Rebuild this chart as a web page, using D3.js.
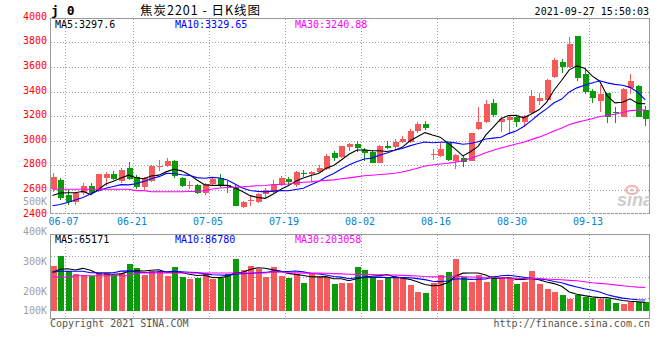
<!DOCTYPE html>
<html><head><meta charset="utf-8">
<script src="https://cdn.jsdelivr.net/npm/d3@7"></script>
<style>body{margin:0;background:#fff;}svg{display:block;}</style>
</head><body><svg id="c" width="660" height="360"></svg>
<script>
// ---------- data ----------
const dates = ["06-04","06-07","06-08","06-09","06-10","06-11","06-15","06-16","06-17","06-18",
"06-21","06-22","06-23","06-24","06-25","06-28","06-29","06-30","07-01","07-02",
"07-05","07-06","07-07","07-08","07-09","07-12","07-13","07-14","07-15","07-16",
"07-19","07-20","07-21","07-22","07-23","07-26","07-27","07-28","07-29","07-30",
"08-02","08-03","08-04","08-05","08-06","08-09","08-10","08-11","08-12","08-13",
"08-16","08-17","08-18","08-19","08-20","08-23","08-24","08-25","08-26","08-27",
"08-30","08-31","09-01","09-02","09-03","09-06","09-07","09-08","09-09","09-10",
"09-13","09-14","09-15","09-16","09-17","09-22","09-23","09-24","09-27"];
const open  = [2606,2681,2559,2500,2573,2633,2594,2698,2730,2676,2781,2703,2622,2676,2795,2795,2836,2695,2636,2638,
2573,2649,2695,2643,2627,2464,2516,2505,2565,2586,2641,2689,2641,2738,2730,2749,2771,2898,2866,2952,
2974,2925,2911,2822,2958,2952,2990,2993,3079,3136,2888,2876,2980,2838,2858,2838,3096,3155,3305,3150,
3169,3191,3155,3223,3326,3331,3521,3643,3597,3852,3543,3405,3326,3391,3234,3196,3426,3445,3250];
const high  = [2741,2695,2600,2586,2654,2659,2730,2749,2757,2776,2825,2722,2708,2803,2841,2862,2844,2708,2676,2649,
2659,2708,2730,2673,2638,2513,2559,2576,2614,2681,2714,2708,2757,2763,2757,2803,2893,2919,2958,2984,
2998,2939,2919,2966,2998,3012,3039,3098,3153,3161,2933,2982,2984,2893,2876,3066,3277,3331,3340,3196,
3201,3210,3210,3413,3391,3500,3670,3662,3846,3852,3589,3418,3453,3391,3272,3426,3543,3453,3283];
const low   = [2586,2519,2478,2478,2559,2559,2586,2633,2681,2659,2681,2606,2594,2667,2757,2789,2695,2627,2606,2567,
2559,2633,2627,2576,2470,2456,2470,2492,2546,2573,2633,2641,2627,2703,2667,2744,2763,2838,2858,2919,
2911,2838,2817,2817,2933,2925,2980,2980,3066,3088,2844,2868,2838,2768,2789,2838,3088,3147,3191,3074,
3066,3114,3114,3218,3291,3326,3508,3548,3589,3489,3378,3310,3236,3147,3147,3191,3380,3191,3123];
const close = [2706,2537,2500,2573,2633,2573,2730,2730,2687,2763,2692,2622,2695,2795,2798,2836,2716,2633,2640,2578,
2646,2689,2641,2633,2472,2505,2519,2565,2600,2641,2695,2667,2749,2733,2744,2779,2879,2860,2958,2974,
2944,2898,2822,2958,2941,2993,3017,3079,3136,3106,2893,2933,2844,2884,2830,3061,3153,3299,3210,3175,
3191,3155,3201,3364,3345,3494,3657,3597,3787,3508,3399,3345,3380,3191,3226,3421,3486,3196,3175];
const volume = [283300,317700,266700,256700,253300,251000,261000,261000,253300,259000,
290000,276700,253300,267700,265700,250000,280000,245700,239000,243300,
259000,239000,242300,256700,305700,270000,283300,272300,247700,279000,
250000,244300,256700,227700,259000,247700,247700,223300,227700,225700,
281000,270000,242300,236700,242300,247700,247700,220000,197700,194300,
227700,255000,263300,305700,245700,231000,253300,231000,250000,247700,
242300,223300,231000,266700,223300,205700,196700,185700,173300,185700,
181000,176700,173300,173300,161000,156700,164300,164300,164300];
// moving-average values before a full window is available
const ma5Lead  = [2555,2576,2578,2578];
const ma10Lead = [2472,2482,2498,2519,2539,2567,2596,2614,2628];
const ma30Lead = [2606,2606,2606,2606,2606,2606,2606,2606,2606,2606,2606,2595,2595,2586,2586,2586,2586,2586,2588,2588,
2595,2608,2616,2620,2622,2625,2630,2634,2636];
const vma5Lead  = [262300,272300,274300,270000];
const vma10Lead = [262300,265700,265700,265700,265700,261000,261000,261000,261000];
const vma30Lead = [246700,246700,246700,251000,251000,251000,251000,251000,251000,251000,251000,
260000,260000,260000,260000,260000,260000,260000,260000,260000,260000,260000,260000,260000,260000,260000,260000,260000,260000];
const priceTicks = [2400,2600,2800,3000,3200,3400,3600,3800,4000];
const volTicks = [100000,200000,300000,400000,500000];
const volTickLabels = ["100K","200K","300K","400K","500K"];
const dateTicks = ["06-07","06-21","07-05","07-19","08-02","08-16","08-30","09-13"];
const priceLegend = ["MA5:3297.6","MA10:3329.65","MA30:3240.88"];
const volLegend = ["MA5:65171","MA10:86780","MA30:203058"];
const maColors = ["#000000","#0000ff","#ff00ff"];
const codeText = "j 0";
const titleText = "焦炭2201 - 日K线图";
const stampText = "2021-09-27 15:50:03";
const copyText = "Copyright 2021 SINA.COM";
const urlText = "http://finance.sina.com.cn";

// ---------- layout ----------
const L = 50.5, R = 649.5, T = 18.5, B = 213.5, VT = 234.5, VB = 318.5, VBASE = 311;
const UP = "#f65a5a", DOWN = "#0a9a0a", GRID = "#a0a0a0", MONO = "'DejaVu Sans Mono', monospace";
const svg = d3.select("#c");
const x = d3.scalePoint().domain(dates).range([52.5, 645.3]);
const y = d3.scaleLinear().domain([2400, 4000]).range([214.6, 17.7]);
const yv = d3.scaleLinear().domain([0, 300000]).range([351, 261]);

function movAvg(arr, n, lead) {
  return arr.map((_, i) => i < n - 1 ? lead[i] : d3.mean(arr.slice(i - n + 1, i + 1)));
}
const pMA = [movAvg(close,5,ma5Lead), movAvg(close,10,ma10Lead), movAvg(close,30,ma30Lead)];
const vMA = [movAvg(volume,5,vma5Lead), movAvg(volume,10,vma10Lead), movAvg(volume,30,vma30Lead)];

const defs = svg.append("defs");
defs.append("clipPath").attr("id","cm").append("rect").attr("x",L).attr("y",T).attr("width",R-L).attr("height",B-T);
defs.append("clipPath").attr("id","cv").append("rect").attr("x",L).attr("y",VT).attr("width",R-L).attr("height",VB-VT);

// grids
const gx = d => Math.round(x(d) + 4.8) + 0.5;
const grid = svg.append("g").attr("stroke", GRID).attr("stroke-dasharray","1,2").attr("shape-rendering","crispEdges");
grid.selectAll(".hg").data(priceTicks.slice(1,-1)).join("line")
  .attr("x1",L).attr("x2",R).attr("y1",d=>Math.round(y(d))+0.5).attr("y2",d=>Math.round(y(d))+0.5);
grid.selectAll(".vg").data(dateTicks).join("line")
  .attr("x1",gx).attr("x2",gx).attr("y1",T).attr("y2",B);
grid.selectAll(".vg2").data(dateTicks).join("line")
  .attr("x1",gx).attr("x2",gx).attr("y1",VT).attr("y2",VB);
grid.selectAll(".hv").data([0.25,0.5,0.75]).join("line")
  .attr("x1",L).attr("x2",R).attr("y1",f=>Math.round(VT+(VB-VT)*f)+0.5).attr("y2",f=>Math.round(VT+(VB-VT)*f)+0.5);

// frames
const fr = svg.append("g").attr("stroke","#999").attr("fill","none").attr("shape-rendering","crispEdges");
fr.append("path").attr("d",`M${L},${B}V${T}H${R}V${B}`);
fr.append("line").attr("x1",L).attr("x2",R).attr("y1",B).attr("y2",B).attr("stroke-dasharray","3,1");
fr.append("rect").attr("x",L).attr("y",VT).attr("width",R-L).attr("height",VB-VT);

// watermark
const wm = svg.append("g").attr("clip-path","url(#cm)");
wm.append("ellipse").attr("cx",632).attr("cy",190).attr("rx",6).attr("ry",4)
  .attr("fill","none").attr("stroke","#f2b4b4").attr("stroke-width",2);
wm.append("circle").attr("cx",632).attr("cy",190).attr("r",1.6).attr("fill","#f2b4b4");
wm.append("text").attr("x",617).attr("y",206).attr("font-family","'Liberation Sans', Arial, sans-serif")
  .attr("font-size",18).attr("font-style","italic").attr("font-weight","bold").attr("fill","#cccccc").text("sina");

// candles
const idx = d3.range(dates.length);
const cg = svg.append("g").attr("clip-path","url(#cm)").attr("shape-rendering","crispEdges");
const col = i => close[i] >= open[i] ? UP : DOWN;
cg.selectAll(".w").data(idx).join("line")
  .attr("x1",i=>Math.round(x(dates[i]))+0.5).attr("x2",i=>Math.round(x(dates[i]))+0.5)
  .attr("y1",i=>y(high[i])).attr("y2",i=>y(low[i])).attr("stroke",col);
cg.selectAll(".b").data(idx).join("rect")
  .attr("x",i=>Math.round(x(dates[i]))-2.5+0.5-0.5).attr("width",6)
  .attr("y",i=>y(Math.max(open[i],close[i])))
  .attr("height",i=>Math.max(1, Math.abs(y(open[i])-y(close[i]))))
  .attr("fill",col);

// price MA lines
const lg = svg.append("g").attr("clip-path","url(#cm)").attr("fill","none");
pMA.forEach((s,k)=>{
  lg.append("path").attr("d", d3.line().x((d,i)=>x(dates[i])).y(d=>y(d))(s))
    .attr("stroke",maColors[k]).attr("stroke-width",1.1);
});

// volume bars
const vg = svg.append("g").attr("clip-path","url(#cv)").attr("shape-rendering","crispEdges");
vg.selectAll("rect").data(idx).join("rect")
  .attr("x",i=>Math.round(x(dates[i]))-2.5).attr("width",6)
  .attr("y",i=>yv(volume[i])).attr("height",i=>Math.max(0,VBASE-yv(volume[i])))
  .attr("fill",col);
const vl = svg.append("g").attr("clip-path","url(#cv)").attr("fill","none");
vMA.forEach((s,k)=>{
  vl.append("path").attr("d", d3.line().x((d,i)=>x(dates[i])).y(d=>yv(d))(s))
    .attr("stroke",maColors[k]).attr("stroke-width",1.1);
});

// axis labels
const tg = svg.append("g").attr("font-family",MONO).attr("font-size",10);
tg.selectAll(".pl").data(priceTicks).join("text")
  .attr("x",47).attr("y",d=>y(d)+2).attr("text-anchor","end").attr("fill","#ff0000").text(d=>d);
tg.selectAll(".vlb").data(volTicks).join("text")
  .attr("x",47).attr("y",(d,i)=>Math.min(313.5, yv(d)+3.5)).attr("text-anchor","end").attr("fill","#a0a0a0")
  .text((d,i)=>volTickLabels[i]);
tg.selectAll(".dl").data(dateTicks).join("text")
  .attr("x",d=>x(d)+3.5).attr("y",225).attr("text-anchor","middle").attr("fill","#0a80d0").text(d=>d);

// legends
tg.selectAll(".lp").data(priceLegend).join("text")
  .attr("x",(d,i)=>55+i*120).attr("y",27.5).attr("fill",(d,i)=>maColors[i]).text(d=>d);
tg.selectAll(".lv").data(volLegend).join("text")
  .attr("x",(d,i)=>55+i*120).attr("y",242.5).attr("fill",(d,i)=>maColors[i]).text(d=>d);

// header / footer
svg.append("text").attr("x",51).attr("y",15).attr("font-family",MONO).attr("font-weight","bold")
  .attr("font-size",13).attr("fill","#000").text(codeText);
svg.append("text").attr("x",140).attr("y",15).attr("font-family","'Noto Sans CJK SC', sans-serif")
  .attr("font-size",12.5).attr("fill","#000").attr("textLength",120).attr("lengthAdjust","spacing").text(titleText);
tg.append("text").attr("x",649).attr("y",15).attr("text-anchor","end").attr("fill","#000").text(stampText);
tg.append("text").attr("x",50).attr("y",326.5).attr("fill","#555").text(copyText);
tg.append("text").attr("x",650).attr("y",326.5).attr("text-anchor","end").attr("fill","#555").text(urlText);
</script></body></html>
